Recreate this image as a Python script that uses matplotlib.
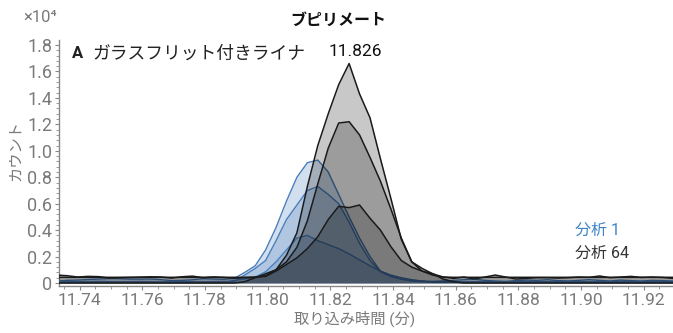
import numpy as np
import matplotlib
matplotlib.use("Agg")
import matplotlib.pyplot as plt
from matplotlib.ticker import MultipleLocator, FixedLocator, FixedFormatter

plt.rcParams["font.family"] = ["Roboto", "Noto Sans CJK JP", "DejaVu Sans"]

# acquisition time grid (min), one scan every 0.2 s around the apex at 11.826
scan_step = 0.00333
scan_index = np.arange(-28, 32)
times = 11.826 + scan_index * scan_step

# counts (x10^4), run 64: three overlaid chromatograms
run64_a = [0.060, 0.055, 0.045, 0.050, 0.048, 0.037, 0.040, 0.042, 0.044, 0.047,
           0.045, 0.037, 0.047, 0.052, 0.040, 0.046, 0.042, 0.036, 0.040, 0.042,
           0.055, 0.10, 0.21, 0.38, 0.73, 1.04, 1.28, 1.50, 1.66, 1.43,
           1.25, 0.94, 0.64, 0.33, 0.16, 0.09, 0.07, 0.045, 0.035, 0.045,
           0.030, 0.045, 0.060, 0.045, 0.030, 0.035, 0.040, 0.040, 0.037, 0.040,
           0.045, 0.043, 0.053, 0.040, 0.045, 0.050, 0.042, 0.045, 0.042, 0.035]
run64_b = [0.0, 0.0, 0.0, 0.0, 0.0, 0.0, 0.0, 0.0, 0.0, 0.0,
           0.0, 0.0, 0.0, 0.0, 0.0, 0.0, 0.0, 0.0, 0.01, 0.04,
           0.07, 0.10, 0.16, 0.27, 0.47, 0.75, 1.02, 1.21, 1.22, 1.12,
           0.95, 0.77, 0.56, 0.34, 0.16, 0.11, 0.07, 0.03, 0.01, 0.0,
           0.0, 0.0, 0.0, 0.0, 0.0, 0.0, 0.0, 0.0, 0.0, 0.0,
           0.0, 0.0, 0.0, 0.0, 0.0, 0.0, 0.0, 0.0, 0.0, 0.0]
run64_c = [0.043, 0.043, 0.043, 0.043, 0.043, 0.043, 0.043, 0.043, 0.043, 0.043,
           0.043, 0.043, 0.043, 0.043, 0.043, 0.043, 0.043, 0.043, 0.043, 0.045,
           0.05, 0.09, 0.14, 0.19, 0.26, 0.35, 0.48, 0.58, 0.57, 0.59,
           0.49, 0.40, 0.275, 0.17, 0.12, 0.09, 0.06, 0.045, 0.043, 0.043,
           0.043, 0.043, 0.043, 0.043, 0.043, 0.043, 0.043, 0.043, 0.043, 0.043,
           0.043, 0.043, 0.043, 0.043, 0.043, 0.043, 0.043, 0.043, 0.043, 0.043]

# counts (x10^4), run 1
run1_a = [0.015, 0.020, 0.022, 0.026, 0.030, 0.034, 0.033, 0.029, 0.029, 0.030,
          0.025, 0.018, 0.020, 0.024, 0.033, 0.030, 0.028, 0.035, 0.08, 0.13,
          0.25, 0.42, 0.62, 0.80, 0.91, 0.93, 0.84, 0.67, 0.50, 0.34,
          0.20, 0.09, 0.05, 0.03, 0.02, 0.015, 0.012, 0.015, 0.020, 0.025,
          0.030, 0.020, 0.015, 0.012, 0.018, 0.022, 0.020, 0.025, 0.018, 0.015,
          0.020, 0.025, 0.020, 0.015, 0.022, 0.018, 0.015, 0.020, 0.018, 0.015]
run1_b = [0.010, 0.009, 0.011, 0.010, 0.012, 0.010, 0.009, 0.010, 0.011, 0.010,
          0.008, 0.010, 0.011, 0.010, 0.009, 0.010, 0.012, 0.010, 0.06, 0.11,
          0.17, 0.32, 0.48, 0.59, 0.70, 0.73, 0.67, 0.60, 0.46, 0.30,
          0.17, 0.085, 0.05, 0.03, 0.015, 0.010, 0.010, 0.011, 0.010, 0.009,
          0.010, 0.012, 0.010, 0.010, 0.009, 0.010, 0.011, 0.010, 0.010, 0.012,
          0.010, 0.009, 0.010, 0.010, 0.011, 0.010, 0.009, 0.010, 0.010, 0.010]
run1_c = [0.005, 0.005, 0.005, 0.005, 0.005, 0.005, 0.005, 0.005, 0.005, 0.005,
          0.005, 0.005, 0.005, 0.005, 0.005, 0.005, 0.005, 0.02, 0.03, 0.045,
          0.085, 0.16, 0.25, 0.34, 0.36, 0.32, 0.29, 0.26, 0.22, 0.175,
          0.13, 0.09, 0.06, 0.04, 0.025, 0.015, 0.005, 0.005, 0.005, 0.005,
          0.005, 0.005, 0.005, 0.005, 0.005, 0.005, 0.005, 0.005, 0.005, 0.005,
          0.005, 0.005, 0.005, 0.005, 0.005, 0.005, 0.005, 0.005, 0.005, 0.005]

x_ticks = [11.74, 11.76, 11.78, 11.80, 11.82, 11.84, 11.86, 11.88, 11.90, 11.92]
y_ticks = [0, 0.2, 0.4, 0.6, 0.8, 1.0, 1.2, 1.4, 1.6, 1.8]
y_tick_labels = ["0", "0.2", "0.4", "0.6", "0.8", "1.0", "1.2", "1.4", "1.6", "1.8"]
apex_time = 11.826

W, H = 673, 333
fig = plt.figure(figsize=(W / 100, H / 100), dpi=100)
ax = fig.add_axes([59 / W, 47 / H, 614 / W, 246 / H])

blue_fill = "#4f81bd"
blue_line = "#4a7ebb"
grey = "#888888"

for ys in (run1_a, run1_b, run1_c):
    ax.fill_between(times, ys, 0, color=blue_fill, alpha=0.25, lw=0, zorder=1)
    ax.plot(times, ys, color=blue_line, lw=1.0, zorder=2)

for ys in (run64_a, run64_b, run64_c):
    ax.fill_between(times, ys, 0, color="black", alpha=0.215, lw=0, zorder=3)
    ax.plot(times, ys, color="#1a1a1a", lw=1.1, zorder=4)

ax.set_xlim(11.73346, 11.92931)
ax.set_ylim(-0.0227, 1.838)

ax.xaxis.set_major_locator(FixedLocator(x_ticks))
ax.xaxis.set_major_formatter(FixedFormatter(["%.2f" % v for v in x_ticks]))
ax.xaxis.set_minor_locator(MultipleLocator(0.005))
ax.yaxis.set_major_locator(FixedLocator(y_ticks))
ax.yaxis.set_major_formatter(FixedFormatter(y_tick_labels))
ax.yaxis.set_minor_locator(MultipleLocator(0.04))

for side in ("top", "right"):
    ax.spines[side].set_visible(False)
for side in ("left", "bottom"):
    ax.spines[side].set_color(grey)
    ax.spines[side].set_linewidth(1.0)

ax.tick_params(which="both", colors=grey, labelcolor="#7a7a7a", labelsize=13)
ax.tick_params(which="major", length=3, width=0.8, pad=2)
ax.tick_params(which="minor", length=2, width=0.6)
ax.tick_params(axis="x", which="major", pad=2, labelsize=12.5)

# apex retention time label
ax.annotate("11.826", xy=(apex_time, max(run64_a)), xytext=(6, 12),
            textcoords="offset pixels", ha="center", va="center",
            fontsize=12.5, color="#111111")

fig.text(338 / W, 1 - 20 / H, "ブピリメート", ha="center", va="center",
         fontsize=11.5, fontweight="bold", color="#111111")
fig.text(40 / W, 1 - 17.5 / H, "×10⁴", ha="center", va="center",
         fontsize=12, color="#7a7a7a")
fig.text(72 / W, 1 - 54 / H, "A", ha="left", va="center",
         fontsize=12, fontweight="bold", color="#222222")
fig.text(92 / W, 1 - 54 / H, "ガラスフリット付きライナ", ha="left", va="center",
         fontsize=12.8, color="#222222")
fig.text(16 / W, 1 - 150 / H, "カウント", ha="center", va="center",
         rotation=90, fontsize=11, color="#7a7a7a")
fig.text(355 / W, 1 - 319 / H, "取り込み時間 (分)", ha="center", va="center",
         fontsize=11, color="#7a7a7a")
fig.text(575 / W, 1 - 230 / H, "分析 1", ha="left", va="center",
         fontsize=11.5, color="#3d85c6")
fig.text(575 / W, 1 - 253.5 / H, "分析 64", ha="left", va="center",
         fontsize=11.5, color="#333333")

fig.savefig("out.png", dpi=100)
